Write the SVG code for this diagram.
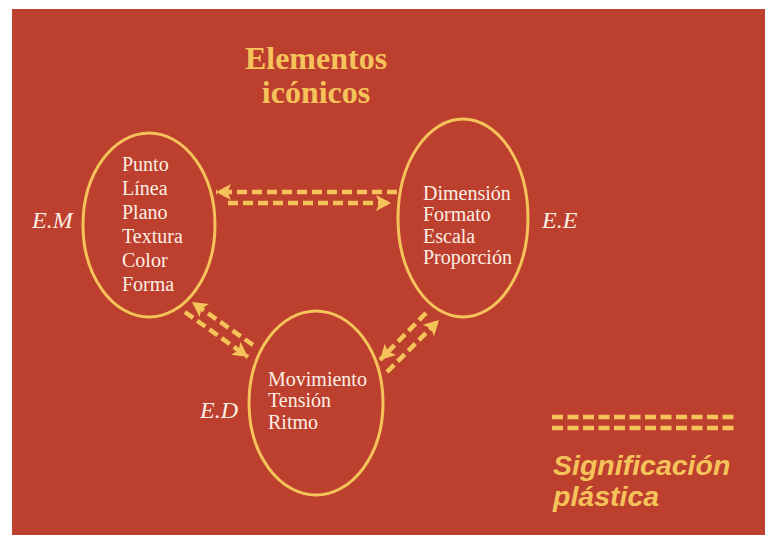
<svg xmlns="http://www.w3.org/2000/svg" width="769" height="535" viewBox="0 0 769 535">
<style>
.node{fill:none;stroke:#F6C35B;stroke-width:3}
.t{font-family:"Liberation Serif",serif;font-size:20px;fill:#FCEFE4}
.lbl{font-family:"Liberation Serif",serif;font-style:italic;font-size:24px;fill:#FCEFE4}
.title{font-family:"Liberation Serif",serif;font-weight:bold;font-size:32px;fill:#F6C35B}
.leg{font-family:"Liberation Sans",sans-serif;font-weight:bold;font-style:italic;font-size:28.5px;fill:#F6C35B}
.c{fill:none;stroke:#F6C35B;stroke-width:4.5;stroke-dasharray:10 5;marker-end:url(#ah)}
.d{fill:none;stroke:#F6C35B;stroke-width:4.5;stroke-dasharray:11 4.5}
</style>
<defs>
<marker id="ah" markerUnits="userSpaceOnUse" markerWidth="18" markerHeight="18" refX="15" refY="8" orient="auto">
<path d="M0,0 L15,8 L0,16 L3.5,8 Z" fill="#F6C35B"/>
</marker>
</defs>
<rect x="0" y="0" width="769" height="535" fill="#ffffff"/>
<rect x="12" y="9" width="753" height="526" fill="#BD3F2E"/>
<g id="title">
<text class="title" x="316" y="69" text-anchor="middle">Elementos</text>
<text class="title" x="316" y="103" text-anchor="middle">icónicos</text>
</g>
<g id="node-em">
<ellipse class="node" cx="149" cy="225" rx="66" ry="92"/>
<text class="t" x="122" y="171">Punto</text>
<text class="t" x="122" y="195">Línea</text>
<text class="t" x="122" y="219">Plano</text>
<text class="t" x="122" y="243">Textura</text>
<text class="t" x="122" y="267">Color</text>
<text class="t" x="122" y="291">Forma</text>
<text class="lbl" x="32" y="228">E.M</text>
</g>
<g id="node-ee">
<ellipse class="node" cx="463" cy="218" rx="65" ry="99"/>
<text class="t" x="423" y="200">Dimensión</text>
<text class="t" x="423" y="221">Formato</text>
<text class="t" x="423" y="243">Escala</text>
<text class="t" x="423" y="264">Proporción</text>
<text class="lbl" x="542" y="228">E.E</text>
</g>
<g id="node-ed">
<ellipse class="node" cx="316" cy="403" rx="67" ry="92"/>
<text class="t" x="268" y="386">Movimiento</text>
<text class="t" x="268" y="407">Tensión</text>
<text class="t" x="268" y="429">Ritmo</text>
<text class="lbl" x="200" y="418">E.D</text>
</g>
<g id="connectors">
<line class="c" x1="397" y1="192" x2="216" y2="192"/>
<line class="c" x1="228" y1="203" x2="391" y2="203"/>
<line class="c" x1="253" y1="345" x2="192" y2="302"/>
<line class="c" x1="185" y1="312" x2="248" y2="357"/>
<line class="c" x1="426" y1="313" x2="380" y2="360"/>
<line class="c" x1="387" y1="372" x2="439" y2="320"/>
</g>
<g id="legend">
<line class="d" x1="552" y1="417" x2="735" y2="417"/>
<line class="d" x1="552" y1="428" x2="735" y2="428"/>
<text class="leg" x="553" y="475">Significación</text>
<text class="leg" x="553" y="506">plástica</text>
</g>
</svg>
